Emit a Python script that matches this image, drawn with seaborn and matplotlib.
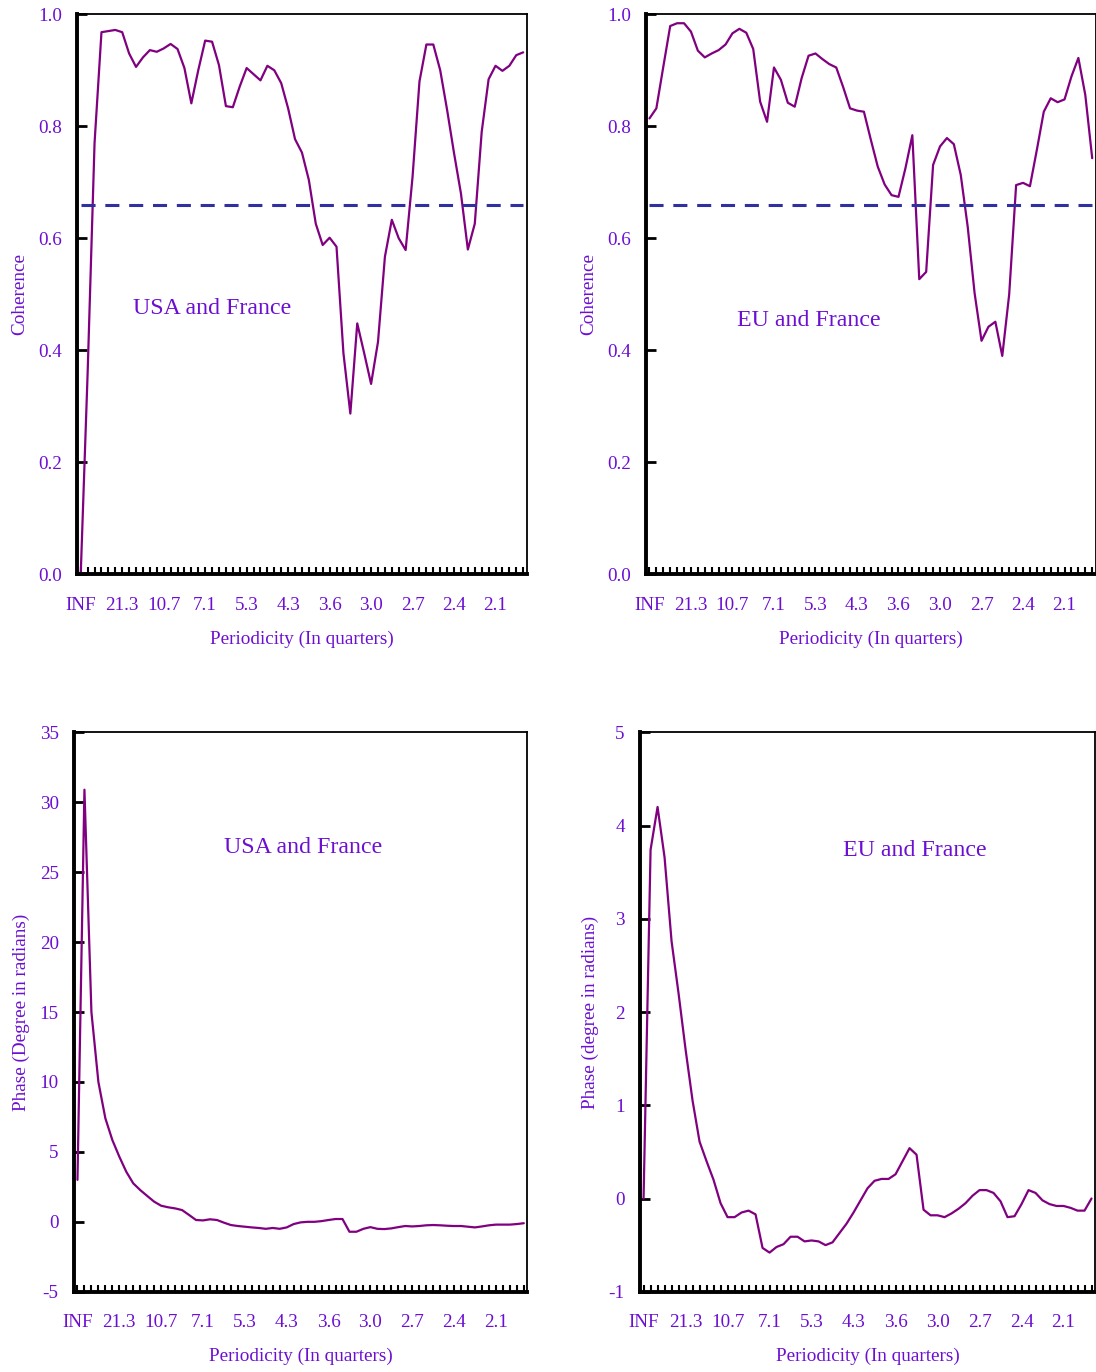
import numpy as np
import pandas as pd
import seaborn as sns
import matplotlib.pyplot as plt

# frequency index 0..64, periodicity = 128 / k quarters
freq_idx = np.arange(65)
period_labels = ["INF", "21.3", "10.7", "7.1", "5.3", "4.3", "3.6", "3.0", "2.7", "2.4", "2.1"]

coh_usa = [
    0.0, 0.36, 0.77, 0.968, 0.970, 0.972, 0.968, 0.930, 0.906, 0.923,
    0.936, 0.933, 0.939, 0.947, 0.938, 0.904, 0.841, 0.900, 0.953, 0.951,
    0.909, 0.836, 0.834, 0.871, 0.904, 0.893, 0.882, 0.908, 0.900, 0.877,
    0.832, 0.777, 0.753, 0.704, 0.626, 0.588, 0.601, 0.585, 0.395, 0.287,
    0.448, 0.395, 0.340, 0.415, 0.567, 0.633, 0.600, 0.579, 0.710, 0.880,
    0.946, 0.946, 0.900, 0.829, 0.752, 0.680, 0.580, 0.626, 0.790, 0.884,
    0.908, 0.899, 0.908, 0.927, 0.932,
]
coh_eu = [
    0.814, 0.832, 0.906, 0.979, 0.984, 0.984, 0.969, 0.935, 0.923, 0.930,
    0.936, 0.946, 0.966, 0.974, 0.967, 0.938, 0.844, 0.808, 0.905, 0.883,
    0.842, 0.835, 0.886, 0.926, 0.930, 0.920, 0.911, 0.905, 0.870, 0.832,
    0.828, 0.826, 0.776, 0.728, 0.696, 0.677, 0.674, 0.725, 0.784, 0.527,
    0.540, 0.731, 0.764, 0.779, 0.768, 0.713, 0.621, 0.502, 0.417, 0.442,
    0.451, 0.390, 0.500, 0.695, 0.699, 0.693, 0.758, 0.826, 0.850, 0.843,
    0.848, 0.889, 0.922, 0.856, 0.743,
]
phase_usa = [
    3.0, 30.9, 15.0, 10.0, 7.4, 5.85, 4.66, 3.58, 2.75, 2.27,
    1.85, 1.44, 1.15, 1.04, 0.96, 0.84, 0.49, 0.13, 0.10, 0.18,
    0.13, -0.06, -0.23, -0.30, -0.35, -0.40, -0.44, -0.50, -0.44, -0.50,
    -0.40, -0.16, -0.04, 0.0, 0.0, 0.05, 0.13, 0.20, 0.20, -0.71,
    -0.71, -0.50, -0.38, -0.50, -0.52, -0.47, -0.38, -0.30, -0.33, -0.30,
    -0.25, -0.23, -0.25, -0.28, -0.30, -0.30, -0.35, -0.40, -0.33, -0.25,
    -0.20, -0.20, -0.20, -0.16, -0.10,
]
phase_eu = [
    0.0, 3.74, 4.20, 3.66, 2.76, 2.2, 1.6, 1.05, 0.61, 0.40,
    0.20, -0.05, -0.20, -0.20, -0.15, -0.13, -0.17, -0.53, -0.58, -0.52,
    -0.49, -0.41, -0.41, -0.46, -0.45, -0.46, -0.50, -0.47, -0.37, -0.27,
    -0.15, -0.02, 0.11, 0.19, 0.21, 0.21, 0.26, 0.40, 0.54, 0.47,
    -0.12, -0.18, -0.18, -0.20, -0.16, -0.11, -0.05, 0.03, 0.09, 0.09,
    0.06, -0.03, -0.20, -0.19, -0.06, 0.09, 0.06, -0.02, -0.06, -0.08,
    -0.08, -0.10, -0.13, -0.13, 0.0,
]
critical_coh = 0.66

sns.set_theme(style="white")
plt.rcParams["font.family"] = ["Liberation Serif", "DejaVu Serif"]
plt.rcParams["axes.unicode_minus"] = False

TXT = "#6c0fd2"
LINE = "#800080"
DASH = "#3030a0"
FS = 13.8

fig = plt.figure(figsize=(10.96, 13.72), dpi=100)


def style_axis(ax, ylim, yticks, yfmt, ylabel, title, title_xy):
    ax.set_xlim(-0.5, 64.5)
    ax.set_ylim(*ylim)
    ax.set_xticks(freq_idx)
    ax.set_xticklabels(
        [period_labels[i // 6] if i % 6 == 0 and i // 6 < len(period_labels) else "" for i in freq_idx]
    )
    ax.set_yticks(yticks)
    ax.set_yticklabels([yfmt.format(v) for v in yticks])
    ax.tick_params(axis="x", direction="in", length=5, width=1.5, color="black",
                   labelcolor=TXT, labelsize=FS, pad=16, bottom=True)
    ax.tick_params(axis="y", direction="in", length=7, width=2, color="black",
                   labelcolor=TXT, labelsize=FS, pad=11, left=True)
    for side in ["top", "right"]:
        ax.spines[side].set_linewidth(1.3)
        ax.spines[side].set_color("black")
    for side in ["left", "bottom"]:
        ax.spines[side].set_linewidth(2.8)
        ax.spines[side].set_color("black")
    ax.set_xlabel("Periodicity (In quarters)", color=TXT, fontsize=FS, labelpad=12)
    ax.set_ylabel(ylabel, color=TXT, fontsize=FS, labelpad=7)
    ax.text(title_xy[0], title_xy[1], title, transform=ax.transAxes, ha="center",
            va="center", color=TXT, fontsize=17.2)
    ax.grid(False)


panels = [
    ([0.0705, 0.5814, 0.4100, 0.4082], coh_usa, (0, 1), np.arange(0, 1.01, 0.2), "{:.1f}",
     "Coherence", "USA and France", (0.30, 0.474), True),
    ([0.5894, 0.5814, 0.4103, 0.4082], coh_eu, (0, 1), np.arange(0, 1.01, 0.2), "{:.1f}",
     "Coherence", "EU and France", (0.362, 0.454), True),
    ([0.0675, 0.0585, 0.4136, 0.4077], phase_usa, (-5, 35), np.arange(-5, 36, 5), "{:d}",
     "Phase (Degree in radians)", "USA and France", (0.505, 0.795), False),
    ([0.5840, 0.0585, 0.4151, 0.4077], phase_eu, (-1, 5), np.arange(-1, 6, 1), "{:d}",
     "Phase (degree in radians)", "EU and France", (0.604, 0.788), False),
]

for rect, vals, ylim, yticks, yfmt, ylabel, title, title_xy, coh in panels:
    ax = fig.add_axes(rect)
    df = pd.DataFrame({"k": freq_idx, "v": vals})
    sns.lineplot(data=df, x="k", y="v", ax=ax, color=LINE, linewidth=1.6)
    if coh:
        ax.hlines(critical_coh, freq_idx[0], freq_idx[-1], colors=DASH,
                  linestyles=(0, (4.6, 3.2)), linewidth=2.2)
    if yfmt == "{:d}":
        yticks = [int(v) for v in yticks]
    style_axis(ax, ylim, yticks, yfmt, ylabel, title, title_xy)

fig.savefig("out.png", dpi=100)
